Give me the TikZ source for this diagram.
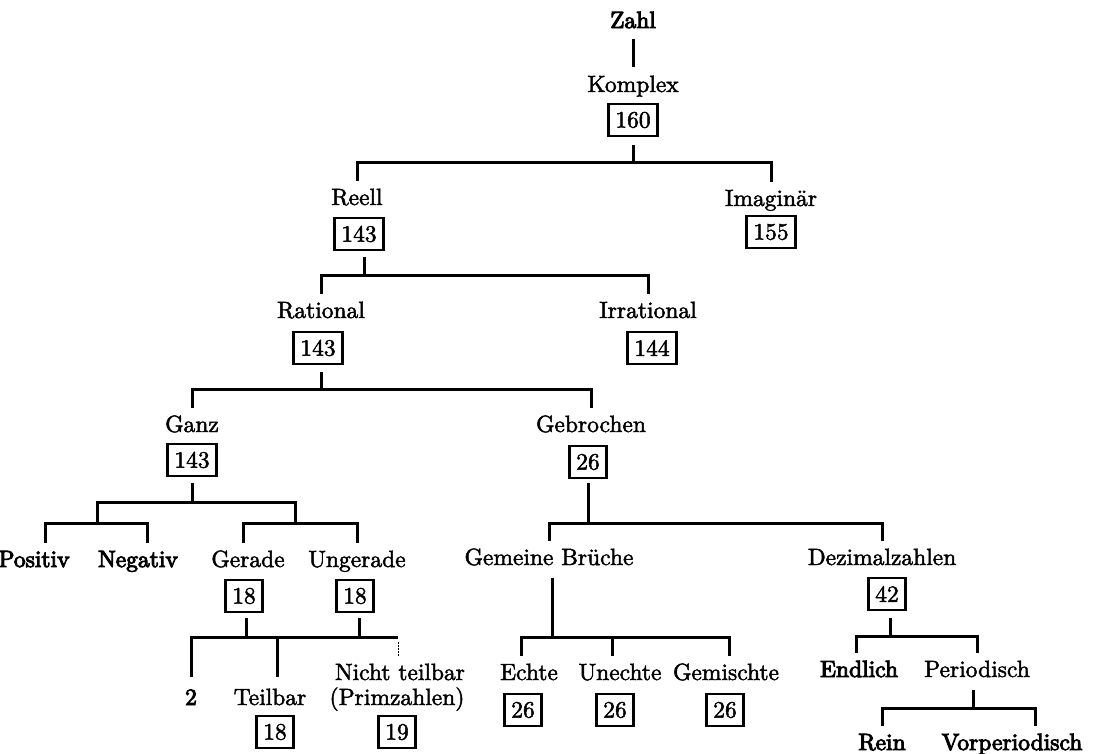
\documentclass[tikz,border=0pt]{standalone}
\usepackage{fontspec}
\setmainfont{lmroman10-regular.otf}[FakeBold=2]
\newfontfamily\heavy{lmroman10-regular.otf}[FakeBold=4]
\begin{document}
\begin{tikzpicture}[x=1pt,y=-1pt,
  txt/.style={font=\fontsize{23.5}{28}\selectfont},
  lab/.style={txt, inner sep=0pt, text height=17pt, text depth=5pt, anchor=base},
  hlab/.style={lab, font=\fontsize{23.5}{28}\heavy},
  numbox/.style={txt, draw, line width=2.6pt, inner xsep=7pt, inner ysep=0pt,
    minimum height=32pt},
  conn/.style={line width=3pt},
  drop/.style={conn, shorten >=7pt}]
\useasboundingbox (0,0) rectangle (1094,753);
\clip (0,0) rectangle (1094,753);

% labels
\node[hlab] (zahl)      at (633,28)  {Zahl};
\node[lab]  (komplex)   at (633,92)  {Komplex};
\node[lab]  (reell)     at (357,205) {Reell};
\node[lab]  (imag)      at (771,206) {Imaginär};
\node[lab]  (rational)  at (321,318) {Rational};
\node[lab]  (irrat)     at (648,318) {Irrational};
\node[lab]  (ganz)      at (192,432) {Ganz};
\node[lab]  (gebr)      at (591,432) {Gebrochen};
\node[hlab] (pos)       at (34,567)  {Positiv};
\node[hlab] (neg)       at (138,567) {Negativ};
\node[lab]  (ger)       at (248,567) {Gerade};
\node[lab]  (unger)     at (357,567) {Ungerade};
\node[lab]  (gem)       at (549,565) {Gemeine Brüche};
\node[lab]  (dez)       at (882,565) {Dezimalzahlen};
\node[hlab] (two)       at (191,705) {2};
\node[lab]  (teil)      at (270,705) {Teilbar};
\node[lab]  (nt)        at (400,680) {Nicht teilbar};
\node[lab]  (prim)      at (397,705) {(Primzahlen)};
\node[lab]  (echte)     at (529,680) {Echte};
\node[lab]  (unechte)   at (620,680) {Unechte};
\node[lab]  (gemischte) at (726,680) {Gemischte};
\node[hlab] (endl)      at (859,677) {Endlich};
\node[lab]  (period)    at (977,677) {Periodisch};
\node[hlab] (rein)      at (882,750) {Rein};
\node[hlab] (vor)       at (1012,750) {Vorperiodisch};

% section numbers
\node[numbox] (b160)  at (633,120) {160};
\node[numbox] (b143r) at (359,234) {143};
\node[numbox] (b155)  at (771,232) {155};
\node[numbox] (b143q) at (318,348) {143};
\node[numbox] (b144)  at (652,348) {144};
\node[numbox] (b143g) at (192,460) {143};
\node[numbox] (b26g)  at (588,462) {26};
\node[numbox] (b18g)  at (244,596) {18};
\node[numbox] (b18u)  at (355,596) {18};
\node[numbox] (b42)   at (887,594) {42};
\node[numbox] (b26e)  at (523,710) {26};
\node[numbox] (b26u)  at (615,710) {26};
\node[numbox] (b26m)  at (725,710) {26};
\node[numbox] (b18t)  at (275,732) {18};
\node[numbox] (b19)   at (397,732) {19};

% junctions on the horizontal bars
\coordinate (jA)  at (633,162);
\coordinate (jB)  at (364,275);
\coordinate (jC)  at (321,389);
\coordinate (jD)  at (192,502);
\coordinate (jD1) at (97,523);
\coordinate (jD2) at (295,523);
\coordinate (jE1) at (246,637);
\coordinate (jE2) at (359,637);
\coordinate (jEr) at (398,637);
\coordinate (jF)  at (588,523);
\coordinate (jG)  at (552,637);
\coordinate (jH)  at (890,636);
\coordinate (jI)  at (973,708);

% Zahl -> Komplex
\draw[conn, shorten <=6pt, shorten >=8pt] (zahl) -- (komplex);

% Komplex: Reell / Imaginaer
\draw[conn, shorten <=8pt] (jA |- b160.south) -- (jA);
\draw[drop] (jA) -| (reell);
\draw[drop] (jA) -| (imag);

% Reell: Rational / Irrational
\draw[conn, shorten <=6pt] (jB |- b143r.south) -- (jB);
\draw[drop] (jB) -| (rational);
\draw[drop] (jB) -| (irrat);

% Rational: Ganz / Gebrochen
\draw[conn, shorten <=7pt] (jC |- b143q.south) -- (jC);
\draw[drop] (jC) -| (ganz);
\draw[drop] (jC) -| (gebr);

% Ganz: Positiv / Negativ, Gerade / Ungerade
\draw[conn, shorten <=6pt] (jD |- b143g.south) -- (jD);
\draw[conn] (jD) -| (jD1);
\draw[conn] (jD) -| (jD2);
\draw[drop] (jD1) -| ([xshift=11pt]pos.north);
\draw[drop] (jD1) -| ([xshift=9pt]neg.north);
\draw[drop] (jD2) -| ([xshift=-5pt]ger.north);
\draw[drop] (jD2) -| (unger);

% Gerade / Ungerade: 2, Teilbar, Nicht teilbar
\draw[conn, shorten <=5pt] (jE1 |- b18g.south) -- (jE1);
\draw[conn, shorten <=5pt] (jE2 |- b18u.south) -- (jE2);
\draw[conn] (jE1) -- (jEr);
\draw[conn, shorten >=11pt] (jE1) -| (two);
\draw[conn, shorten >=11pt] (jE1) -| ([xshift=7pt]teil.north);
\draw[line width=1pt, dash pattern=on 1.5pt off 1.5pt, shorten <=5pt, shorten >=6pt]
  (jEr) -- (jEr |- nt.north);

% Gebrochen: Gemeine Brueche / Dezimalzahlen
\draw[conn, shorten <=4pt] (jF |- b26g.south) -- (jF);
\draw[drop] (jF) -| (gem);
\draw[drop] (jF) -| (dez);

% Gemeine Brueche: Echte / Unechte / Gemischte
\draw[conn, shorten <=8pt] (jG |- gem.south) -- (jG);
\draw[drop] (jG) -| ([xshift=-8pt]echte.north);
\draw[drop] (jG) -| ([xshift=-8pt]unechte.north);
\draw[drop] (jG) -| ([xshift=3pt]gemischte.north);

% Dezimalzahlen: Endlich / Periodisch
\draw[conn, shorten <=7pt] (jH |- b42.south) -- (jH);
\draw[drop] (jH) -| ([xshift=-3pt]endl.north);
\draw[drop] (jH) -| (period);

% Periodisch: Rein / Vorperiodisch
\draw[conn, shorten <=8pt] (jI |- period.south) -- (jI);
\draw[drop] (jI) -| (rein);
\draw[drop] (jI) -| ([xshift=23pt]vor.north);
\end{tikzpicture}
\end{document}
